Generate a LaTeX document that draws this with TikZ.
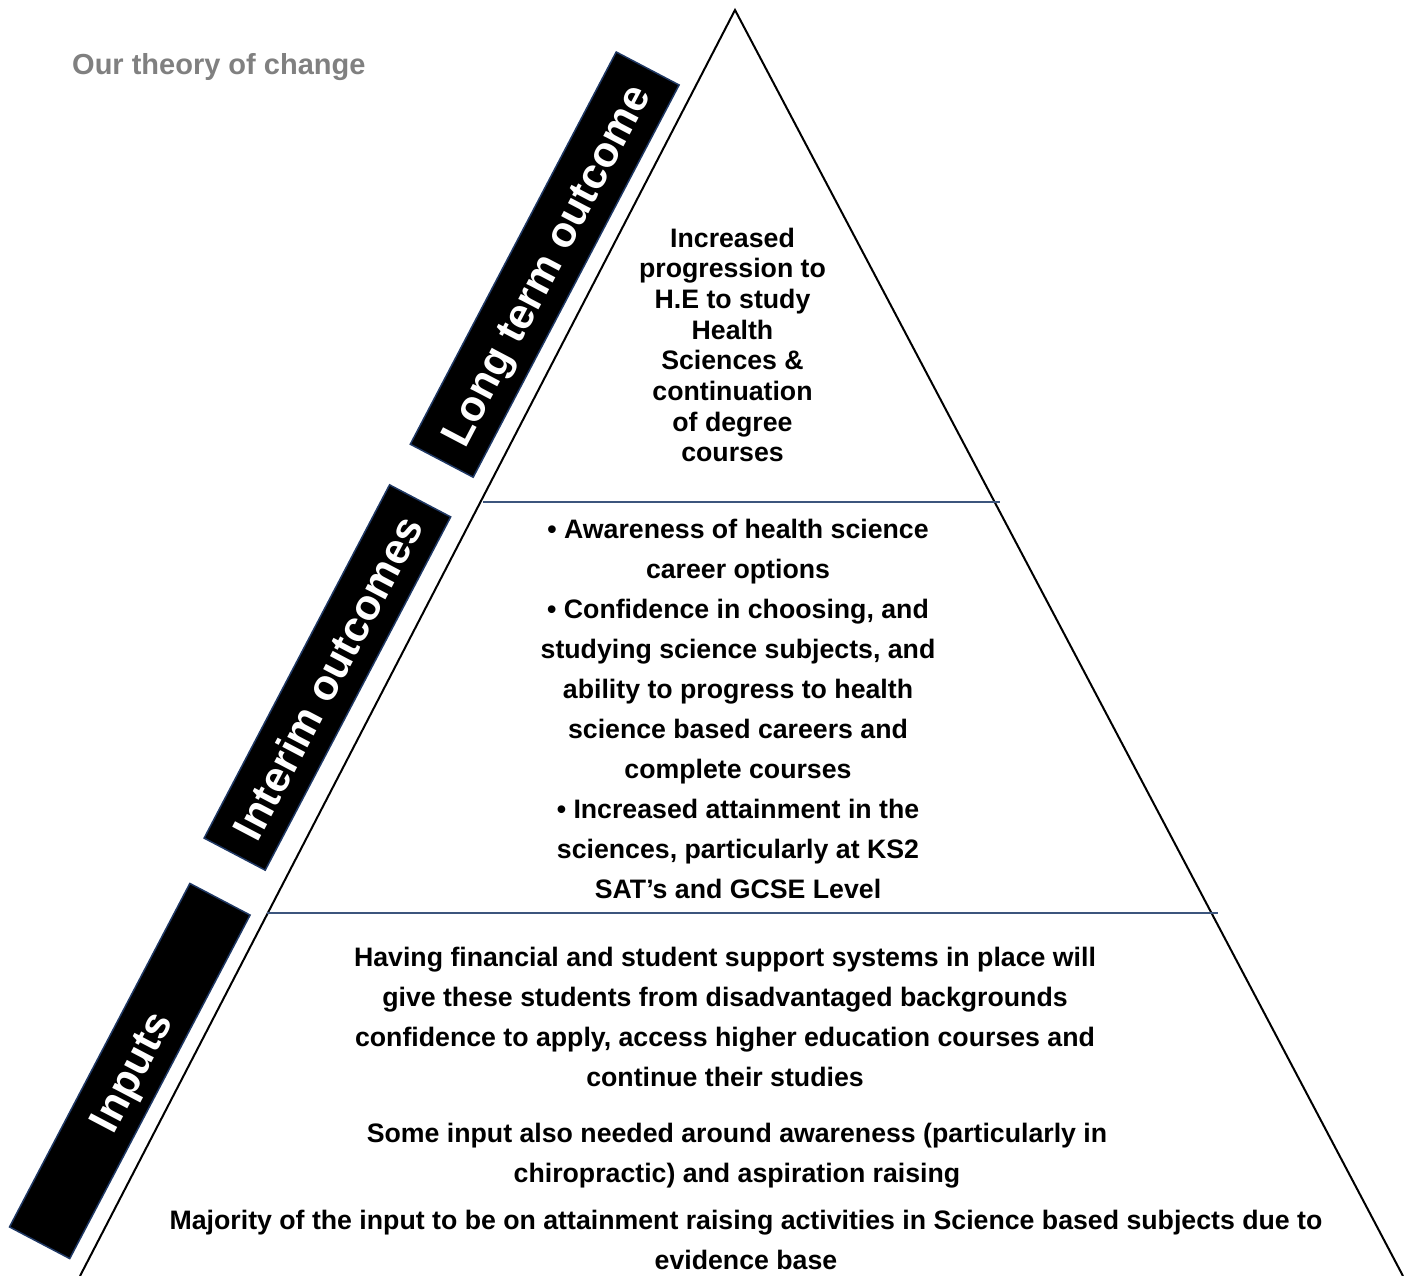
\documentclass[tikz,border=0pt]{standalone}
\usepackage{fontspec}
\setmainfont{Liberation Sans}
\definecolor{navy}{RGB}{31,56,100}
\definecolor{divline}{RGB}{60,85,125}
\definecolor{titlegray}{RGB}{128,128,128}
\begin{document}
\begin{tikzpicture}[x=1pt,y=-1pt,
  banner/.style={fill=black, draw=navy, line width=1.5pt, text=white,
    font=\fontsize{43}{50}\selectfont\bfseries, inner sep=0pt, rotate=62.3,
    text height=31pt, text depth=0pt},
  body/.style={font=\fontsize{26.7}{40}\selectfont\bfseries, align=center, inner sep=0pt},
  tight/.style={font=\fontsize{26.7}{30.7}\selectfont\bfseries, align=center, inner sep=0pt},
  pyramid/.style={line width=2pt, black, line join=miter},
  divider/.style={line width=1.3pt, divline}]
\useasboundingbox (0,0) rectangle (1413,1276);

% pyramid outline
\coordinate (apex) at (735,10);
\coordinate (bl) at (80,1276);
\coordinate (br) at (1403,1276);
\draw[pyramid] (bl) -- (apex) -- (br);

% dividers
\coordinate (d1l) at (483,502);
\coordinate (d1r) at (1000,502);
\coordinate (d2l) at (267,913);
\coordinate (d2r) at (1218,913);
\draw[divider] (d1l) -- (d1r);
\draw[divider] (d2l) -- (d2r);

% title
\node[font=\fontsize{29}{33}\selectfont\bfseries, text=titlegray, inner sep=0pt, anchor=base west]
  (title) at (72,75) {Our theory of change};

% banners
\node[banner, minimum width=443pt, minimum height=71pt] (b1) at (544.7,264.6) {Long term outcome};
\node[banner, minimum width=399pt, minimum height=69pt] (b2) at (327.4,677.5) {Interim outcomes};
\node[banner, minimum width=388pt, minimum height=68pt] (b3) at (129.8,1071) {Inputs};

% level texts
\node[tight] (long) at (732.5,345) {Increased\\progression to\\H.E to study\\Health\\Sciences \&\\continuation\\of degree\\courses};

\node[body] (interim) at (738,709.4) {• Awareness of health science\\career options\\• Confidence in choosing, and\\studying science subjects, and\\ability to progress to health\\science based careers and\\complete courses\\• Increased attainment in the\\sciences, particularly at KS2\\SAT’s and GCSE Level};

\node[body] (in1) at (725,1016.7) {Having financial and student support systems in place will\\give these students from disadvantaged backgrounds\\confidence to apply, access higher education courses and\\continue their studies};
\node[body] (in2) at (737,1155.5) {Some input also needed around awareness (particularly in\\chiropractic) and aspiration raising};
\node[body] (in3) at (746,1239.7) {Majority of the input to be on attainment raising activities in Science based subjects due to\\evidence base};
\end{tikzpicture}
\end{document}
